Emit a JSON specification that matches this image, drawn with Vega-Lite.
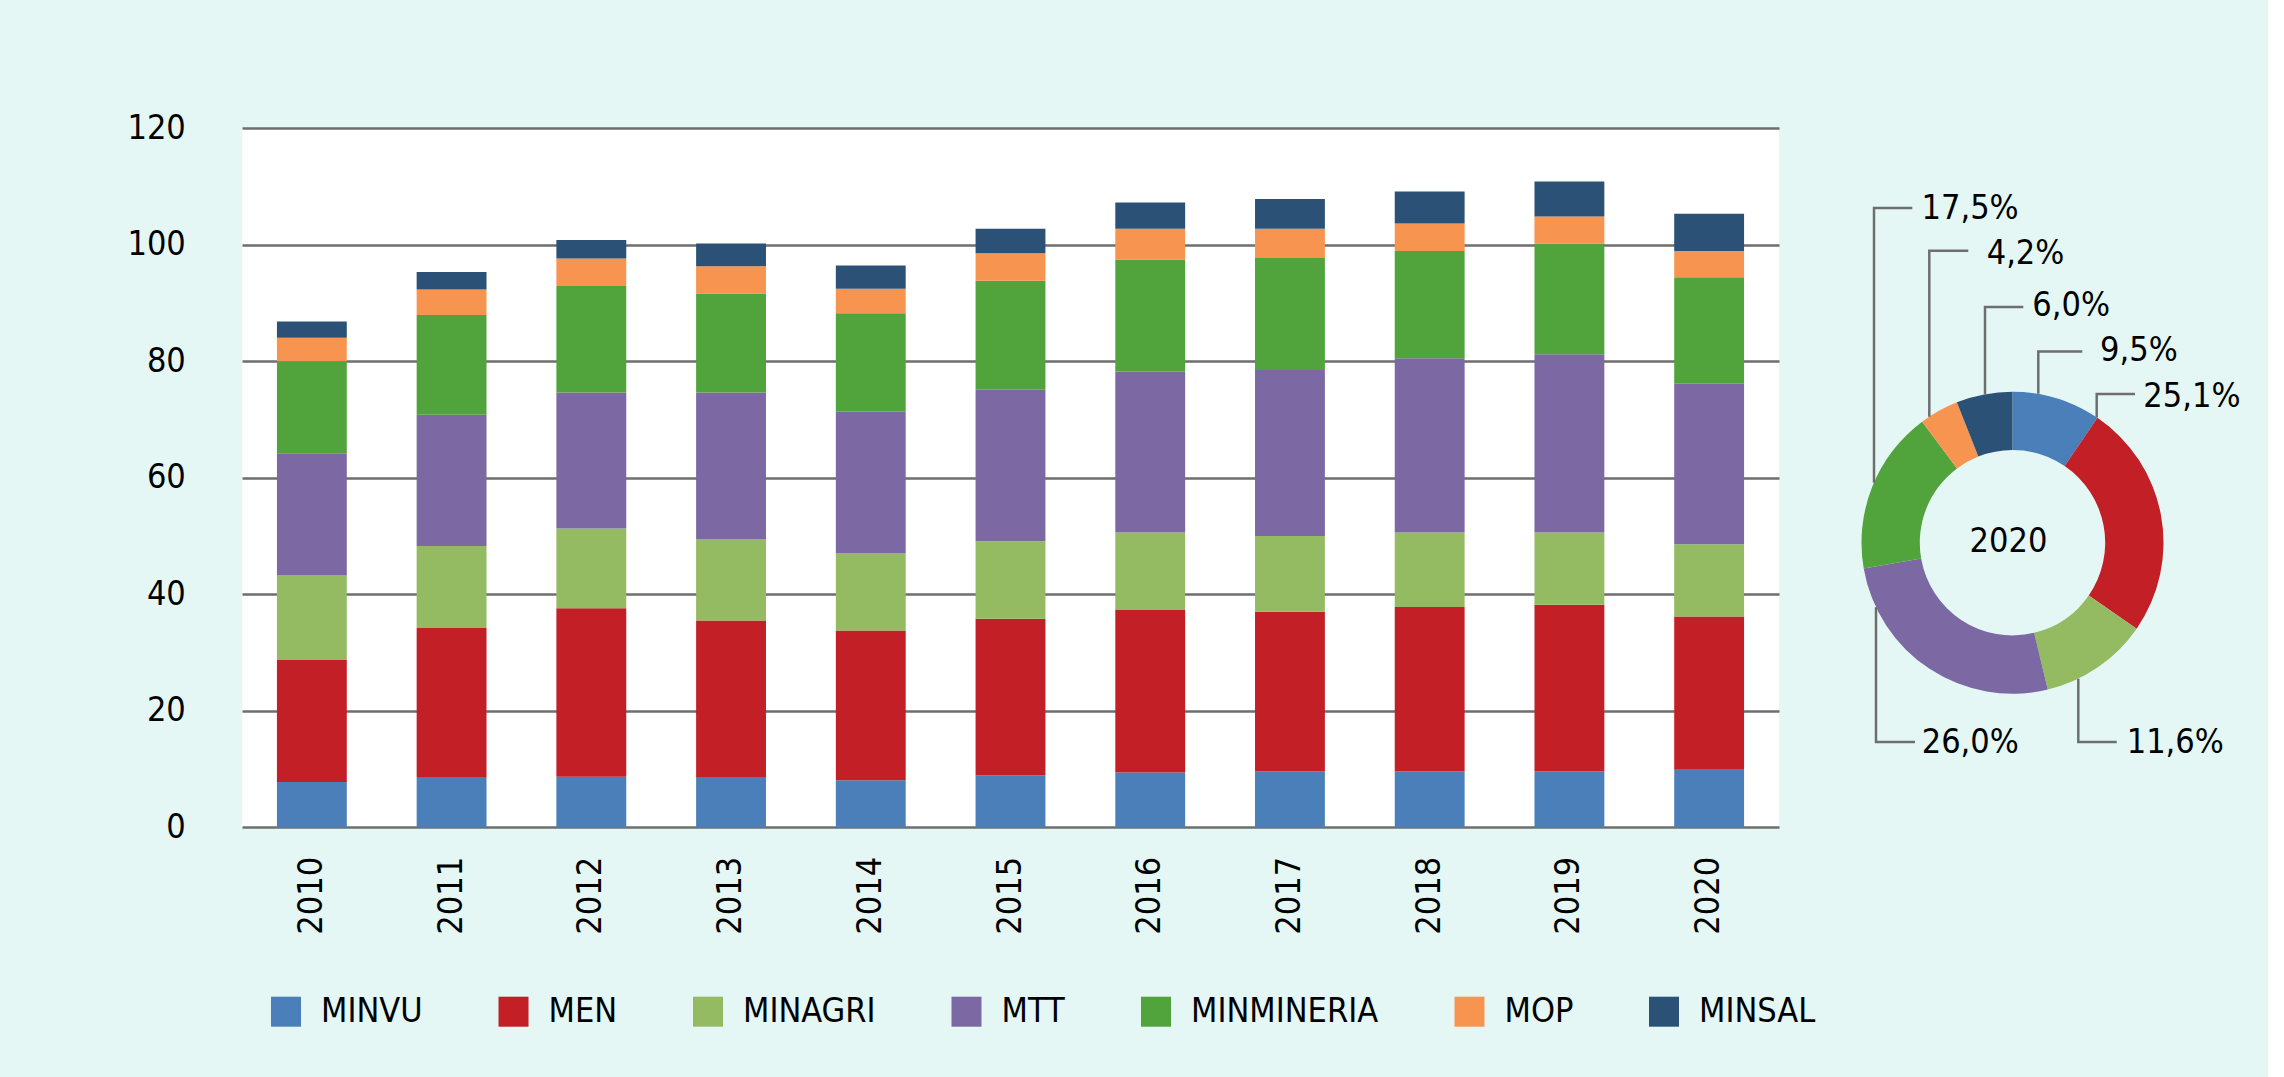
{
  "$schema": "https://vega.github.io/schema/vega-lite/v6.json",
  "background": "#e4f7f5",
  "padding": {"left": 126, "top": 111, "right": 27, "bottom": 48},
  "bounds": "flush",
  "spacing": 21,
  "config": {
    "view": {"stroke": null},
    "font": "DejaVu Sans Condensed",
    "axis": {"labelFont": "DejaVu Sans Condensed", "labelFontSize": 34, "labelColor": "#000000", "title": null},
    "legend": {"labelFont": "DejaVu Sans Condensed", "labelFontSize": 34, "labelColor": "#000000"},
    "text": {"font": "DejaVu Sans Condensed", "fontSize": 34, "color": "#000000"}
  },
  "datasets": {
    "barras": [
      {"anio": "2010", "min": "MINVU", "o": 1, "v": 7.8}, {"anio": "2010", "min": "MEN", "o": 2, "v": 21.0}, {"anio": "2010", "min": "MINAGRI", "o": 3, "v": 14.4}, {"anio": "2010", "min": "MTT", "o": 4, "v": 21.0}, {"anio": "2010", "min": "MINMINERIA", "o": 5, "v": 15.8}, {"anio": "2010", "min": "MOP", "o": 6, "v": 4.0}, {"anio": "2010", "min": "MINSAL", "o": 7, "v": 2.8},
      {"anio": "2011", "min": "MINVU", "o": 1, "v": 8.5}, {"anio": "2011", "min": "MEN", "o": 2, "v": 25.7}, {"anio": "2011", "min": "MINAGRI", "o": 3, "v": 14.1}, {"anio": "2011", "min": "MTT", "o": 4, "v": 22.5}, {"anio": "2011", "min": "MINMINERIA", "o": 5, "v": 17.1}, {"anio": "2011", "min": "MOP", "o": 6, "v": 4.4}, {"anio": "2011", "min": "MINSAL", "o": 7, "v": 3.0},
      {"anio": "2012", "min": "MINVU", "o": 1, "v": 8.7}, {"anio": "2012", "min": "MEN", "o": 2, "v": 28.9}, {"anio": "2012", "min": "MINAGRI", "o": 3, "v": 13.7}, {"anio": "2012", "min": "MTT", "o": 4, "v": 23.3}, {"anio": "2012", "min": "MINMINERIA", "o": 5, "v": 18.3}, {"anio": "2012", "min": "MOP", "o": 6, "v": 4.7}, {"anio": "2012", "min": "MINSAL", "o": 7, "v": 3.2},
      {"anio": "2013", "min": "MINVU", "o": 1, "v": 8.5}, {"anio": "2013", "min": "MEN", "o": 2, "v": 27.0}, {"anio": "2013", "min": "MINAGRI", "o": 3, "v": 13.9}, {"anio": "2013", "min": "MTT", "o": 4, "v": 25.2}, {"anio": "2013", "min": "MINMINERIA", "o": 5, "v": 17.0}, {"anio": "2013", "min": "MOP", "o": 6, "v": 4.7}, {"anio": "2013", "min": "MINSAL", "o": 7, "v": 3.9},
      {"anio": "2014", "min": "MINVU", "o": 1, "v": 8.1}, {"anio": "2014", "min": "MEN", "o": 2, "v": 25.7}, {"anio": "2014", "min": "MINAGRI", "o": 3, "v": 13.2}, {"anio": "2014", "min": "MTT", "o": 4, "v": 24.3}, {"anio": "2014", "min": "MINMINERIA", "o": 5, "v": 16.9}, {"anio": "2014", "min": "MOP", "o": 6, "v": 4.2}, {"anio": "2014", "min": "MINSAL", "o": 7, "v": 4.0},
      {"anio": "2015", "min": "MINVU", "o": 1, "v": 8.9}, {"anio": "2015", "min": "MEN", "o": 2, "v": 26.9}, {"anio": "2015", "min": "MINAGRI", "o": 3, "v": 13.3}, {"anio": "2015", "min": "MTT", "o": 4, "v": 26.0}, {"anio": "2015", "min": "MINMINERIA", "o": 5, "v": 18.7}, {"anio": "2015", "min": "MOP", "o": 6, "v": 4.7}, {"anio": "2015", "min": "MINSAL", "o": 7, "v": 4.2},
      {"anio": "2016", "min": "MINVU", "o": 1, "v": 9.4}, {"anio": "2016", "min": "MEN", "o": 2, "v": 28.0}, {"anio": "2016", "min": "MINAGRI", "o": 3, "v": 13.2}, {"anio": "2016", "min": "MTT", "o": 4, "v": 27.6}, {"anio": "2016", "min": "MINMINERIA", "o": 5, "v": 19.2}, {"anio": "2016", "min": "MOP", "o": 6, "v": 5.3}, {"anio": "2016", "min": "MINSAL", "o": 7, "v": 4.5},
      {"anio": "2017", "min": "MINVU", "o": 1, "v": 9.6}, {"anio": "2017", "min": "MEN", "o": 2, "v": 27.4}, {"anio": "2017", "min": "MINAGRI", "o": 3, "v": 13.0}, {"anio": "2017", "min": "MTT", "o": 4, "v": 28.5}, {"anio": "2017", "min": "MINMINERIA", "o": 5, "v": 19.2}, {"anio": "2017", "min": "MOP", "o": 6, "v": 5.0}, {"anio": "2017", "min": "MINSAL", "o": 7, "v": 5.1},
      {"anio": "2018", "min": "MINVU", "o": 1, "v": 9.6}, {"anio": "2018", "min": "MEN", "o": 2, "v": 28.2}, {"anio": "2018", "min": "MINAGRI", "o": 3, "v": 12.8}, {"anio": "2018", "min": "MTT", "o": 4, "v": 29.9}, {"anio": "2018", "min": "MINMINERIA", "o": 5, "v": 18.4}, {"anio": "2018", "min": "MOP", "o": 6, "v": 4.7}, {"anio": "2018", "min": "MINSAL", "o": 7, "v": 5.5},
      {"anio": "2019", "min": "MINVU", "o": 1, "v": 9.6}, {"anio": "2019", "min": "MEN", "o": 2, "v": 28.6}, {"anio": "2019", "min": "MINAGRI", "o": 3, "v": 12.4}, {"anio": "2019", "min": "MTT", "o": 4, "v": 30.6}, {"anio": "2019", "min": "MINMINERIA", "o": 5, "v": 19.0}, {"anio": "2019", "min": "MOP", "o": 6, "v": 4.6}, {"anio": "2019", "min": "MINSAL", "o": 7, "v": 6.0},
      {"anio": "2020", "min": "MINVU", "o": 1, "v": 9.9}, {"anio": "2020", "min": "MEN", "o": 2, "v": 26.3}, {"anio": "2020", "min": "MINAGRI", "o": 3, "v": 12.4}, {"anio": "2020", "min": "MTT", "o": 4, "v": 27.5}, {"anio": "2020", "min": "MINMINERIA", "o": 5, "v": 18.3}, {"anio": "2020", "min": "MOP", "o": 6, "v": 4.5}, {"anio": "2020", "min": "MINSAL", "o": 7, "v": 6.4}
    ],
    "dona": [
      {"min": "MINVU", "o": 1, "pct": 9.5},
      {"min": "MEN", "o": 2, "pct": 25.1},
      {"min": "MINAGRI", "o": 3, "pct": 11.6},
      {"min": "MTT", "o": 4, "pct": 26.0},
      {"min": "MINMINERIA", "o": 5, "pct": 17.5},
      {"min": "MOP", "o": 6, "pct": 4.2},
      {"min": "MINSAL", "o": 7, "pct": 6.0}
    ],
    "guias": [
      {"min": "MINMINERIA", "p": 1, "x": -138.5, "y": 60}, {"min": "MINMINERIA", "p": 2, "x": -138.5, "y": 334.7}, {"min": "MINMINERIA", "p": 3, "x": -100.2, "y": 334.7},
      {"min": "MOP", "p": 1, "x": -83.2, "y": 126}, {"min": "MOP", "p": 2, "x": -83.2, "y": 292}, {"min": "MOP", "p": 3, "x": -44.2, "y": 292},
      {"min": "MINSAL", "p": 1, "x": -27.5, "y": 148.5}, {"min": "MINSAL", "p": 2, "x": -27.5, "y": 235.7}, {"min": "MINSAL", "p": 3, "x": 10.8, "y": 235.7},
      {"min": "MINVU", "p": 1, "x": 25.8, "y": 149}, {"min": "MINVU", "p": 2, "x": 25.8, "y": 191.3}, {"min": "MINVU", "p": 3, "x": 69.8, "y": 191.3},
      {"min": "MEN", "p": 1, "x": 84.2, "y": 125.3}, {"min": "MEN", "p": 2, "x": 84.2, "y": 148.7}, {"min": "MEN", "p": 3, "x": 122.5, "y": 148.7},
      {"min": "MTT", "p": 1, "x": -136.5, "y": -64.5}, {"min": "MTT", "p": 2, "x": -136.5, "y": -199.3}, {"min": "MTT", "p": 3, "x": -97.5, "y": -199.3},
      {"min": "MINAGRI", "p": 1, "x": 65.8, "y": -136}, {"min": "MINAGRI", "p": 2, "x": 65.8, "y": -199.3}, {"min": "MINAGRI", "p": 3, "x": 104.2, "y": -199.3}
    ],
    "etiquetas": [
      {"t": "17,5%", "x": -91, "y": 334},
      {"t": "4,2%", "x": -25.8, "y": 289},
      {"t": "6,0%", "x": 19.8, "y": 237},
      {"t": "9,5%", "x": 87.5, "y": 191.5},
      {"t": "25,1%", "x": 130.8, "y": 146},
      {"t": "26,0%", "x": -90.8, "y": -200},
      {"t": "11,6%", "x": 114.2, "y": -200}
    ]
  },
  "resolve": {"scale": {"color": "shared"}, "legend": {"color": "shared"}},
  "hconcat": [
    {
      "width": 1537,
      "height": 699.4,
      "view": {"fill": "#ffffff", "stroke": null},
      "data": {"name": "barras"},
      "mark": {"type": "bar"},
      "encoding": {
        "x": {
          "field": "anio", "type": "nominal",
          "scale": {"paddingInner": 0.5, "paddingOuter": 0.25},
          "axis": {"labelAngle": -90, "labelPadding": 29, "ticks": false, "tickSize": 0, "domain": false, "grid": false, "labelBaseline": "middle"}
        },
        "y": {
          "field": "v", "type": "quantitative", "stack": "zero",
          "scale": {"domain": [0, 120], "nice": false},
          "axis": {"values": [0, 20, 40, 60, 80, 100, 120], "grid": true, "gridColor": "#6e6e6e", "gridWidth": 2.5, "domain": false, "ticks": false, "tickSize": 0, "labelPadding": 56.7}
        },
        "color": {
          "field": "min", "type": "nominal",
          "scale": {
            "domain": ["MINVU", "MEN", "MINAGRI", "MTT", "MINMINERIA", "MOP", "MINSAL"],
            "range": ["#4a7fba", "#c21f27", "#94bb62", "#7c68a3", "#51a33b", "#f79550", "#2b5276"]
          },
          "legend": {
            "title": null, "orient": "none", "legendX": 27, "legendY": 866.7,
            "direction": "horizontal", "columns": 7, "gridAlign": "each",
            "columnPadding": 73.5, "symbolType": "square", "symbolSize": 900,
            "symbolStrokeWidth": 0, "labelOffset": 18, "padding": 0, "labelLimit": 0
          }
        },
        "order": {"field": "o", "type": "quantitative"}
      }
    },
    {
      "width": 425,
      "height": 829.4,
      "view": {"fill": null, "stroke": null},
      "layer": [
        {
          "data": {"name": "dona"},
          "mark": {"type": "arc", "outerRadius": 151, "innerRadius": 92.7},
          "encoding": {
            "theta": {"field": "pct", "type": "quantitative", "stack": true},
            "color": {"field": "min", "type": "nominal"},
            "order": {"field": "o", "type": "quantitative"}
          }
        },
        {
          "data": {"name": "guias"},
          "mark": {"type": "line", "color": "#6e6e6e", "strokeWidth": 2.5},
          "encoding": {
            "x": {"field": "x", "type": "quantitative", "scale": {"domain": [-212.5, 212.5], "nice": false, "zero": false}, "axis": null},
            "y": {"field": "y", "type": "quantitative", "scale": {"domain": [-414.7, 414.7], "nice": false, "zero": false}, "axis": null},
            "detail": {"field": "min"},
            "order": {"field": "p", "type": "quantitative"}
          }
        },
        {
          "data": {"name": "etiquetas"},
          "mark": {"type": "text", "align": "left", "baseline": "middle", "fontSize": 34},
          "encoding": {
            "x": {"field": "x", "type": "quantitative"},
            "y": {"field": "y", "type": "quantitative"},
            "text": {"field": "t"}
          }
        },
        {
          "data": {"values": [{"t": "2020", "x": -4, "y": 1}]},
          "mark": {"type": "text", "align": "center", "baseline": "middle", "fontSize": 34},
          "encoding": {
            "x": {"field": "x", "type": "quantitative"},
            "y": {"field": "y", "type": "quantitative"},
            "text": {"field": "t"}
          }
        }
      ]
    }
  ]
}
